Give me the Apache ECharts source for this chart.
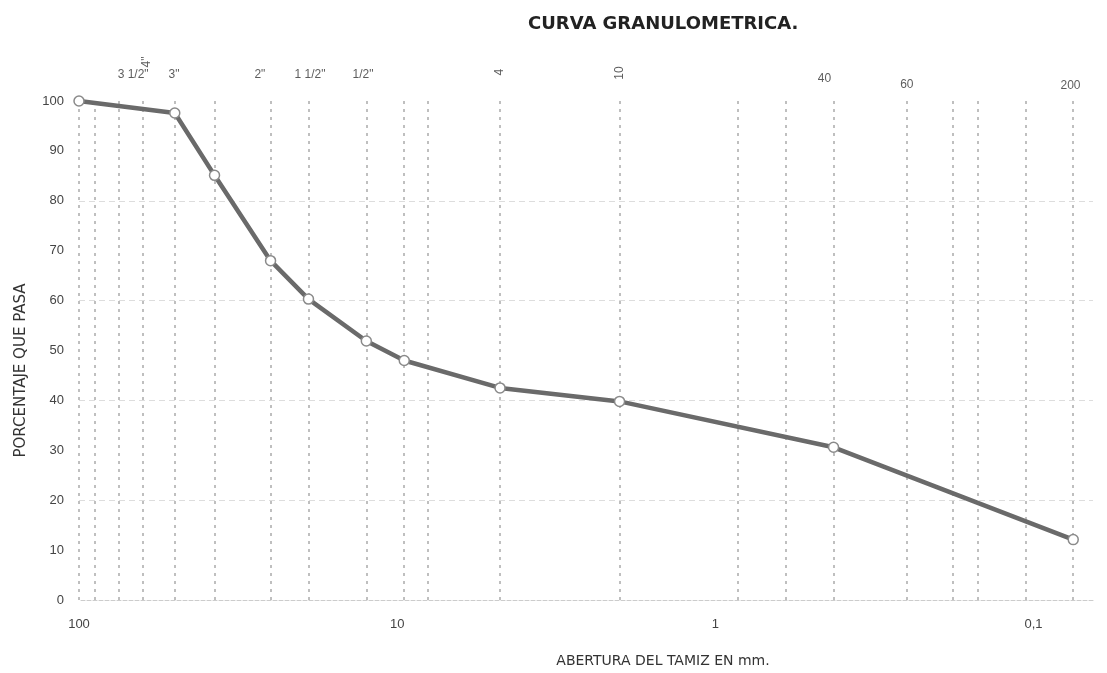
<!DOCTYPE html>
<html>
<head>
<meta charset="utf-8">
<title>Curva granulometrica</title>
<script src="https://cdn.jsdelivr.net/npm/echarts@6/dist/echarts.min.js"></script>
<style>
  html, body { margin: 0; padding: 0; background: #fff; }
  #chart { width: 1107px; height: 673px; }
</style>
</head>
<body>
<div id="chart"></div>
<script>
// abertura (mm) y porcentaje que pasa
const aberturas = [100, 50, 37.5, 25, 19, 12.5, 9.5, 4.75, 2.0, 0.425, 0.075]
const porcentajes = [100, 97.6, 85.1, 68, 60.3, 51.9, 48, 42.5, 39.8, 30.6, 12.1]

// lineas verticales de los tamices (mm)
const tamices = [100, 89, 75, 63, 50, 37.5, 25, 19, 12.5, 9.5, 8, 4.75, 2.0, 0.85, 0.6, 0.425, 0.25, 0.18, 0.15, 0.106, 0.075]

// etiquetas superiores de los tamices
const etiquetas = ['3 1/2"', '3"', '4"', '2"', '1 1/2"', '1/2"', '4', '10', '40', '60', '200']
const etiquetaX = [67.6, 50.3, 61.2, 27, 18.8, 12.8, 4.75, 2.0, 0.454, 0.25, 0.0765]
const etiquetaY = [105.2, 105.2, 107.8, 105.2, 105.2, 105.2, 105.8, 105.6, 104.4, 103.2, 103.0]
const etiquetaRot = [0, 0, 90, 0, 0, 0, 90, 90, 0, 0, 0]

// lineas horizontales tenues
const horizontales = [20, 40, 60, 80]

const yTicks = { min: 0, max: 100, interval: 10 }

let myChart = echarts.init(document.getElementById('chart'))

let option = {
  animation: false,
  textStyle: { fontFamily: 'Liberation Sans, Arial, sans-serif' },
  title: {
    text: 'CURVA GRANULOMETRICA.',
    left: 523,
    top: 10,
    textStyle: { fontSize: 18, fontWeight: 'bold', color: '#222', fontFamily: 'DejaVu Sans' }
  },
  grid: { left: 79, right: 14, top: 101, bottom: 69 },
  xAxis: {
    type: 'log',
    logBase: 10,
    inverse: true,
    min: 0.065,
    max: 100,
    name: 'ABERTURA DEL TAMIZ EN mm.',
    nameLocation: 'middle',
    nameGap: 54,
    nameTextStyle: { fontSize: 14, color: '#333', fontFamily: 'DejaVu Sans', padding: [0, 0, 0, 154] },
    axisLine: { lineStyle: { color: '#ccc', type: 'dashed' } },
    axisTick: { show: false },
    splitLine: { show: false },
    axisLabel: {
      color: '#444',
      fontSize: 13,
      margin: 18,
      formatter: function (v) {
        const e = Math.log10(v)
        if (Math.abs(e - Math.round(e)) > 0.001) return ''
        return String(Math.pow(10, Math.round(e))).replace('.', ',')
      }
    }
  },
  yAxis: {
    type: 'value',
    min: yTicks.min,
    max: yTicks.max,
    interval: yTicks.interval,
    name: 'PORCENTAJE QUE PASA',
    nameLocation: 'middle',
    nameGap: 50,
    nameTextStyle: { fontSize: 15, color: '#333', fontFamily: 'DejaVu Sans', padding: [0, 0, 0, -40] },
    axisLine: { show: false },
    axisTick: { show: false },
    splitLine: { show: false },
    axisLabel: { color: '#444', fontSize: 13, margin: 15 }
  },
  series: [
    {
      // etiquetas de tamices y rejilla
      type: 'scatter',
      clip: false,
      silent: true,
      symbolSize: 0,
      data: etiquetas.map((n, i) => ({
        name: n,
        value: [etiquetaX[i], etiquetaY[i]],
        label: { rotate: etiquetaRot[i] }
      })),
      label: {
        show: true,
        position: 'inside',
        formatter: '{b}',
        color: '#333',
        fontSize: 12
      },
      markLine: {
        silent: true,
        symbol: 'none',
        label: { show: false },
        lineStyle: { color: '#aaa', width: 1.5, type: [3, 5] },
        data: tamices.map(t => [{ coord: [t, 0] }, { coord: [t, 100] }])
          .concat(horizontales.map(h => [
            { coord: [100, h], lineStyle: { color: '#ddd', width: 1, type: [6, 4] } },
            { coord: [0.065, h] }
          ]))
      }
    },
    {
      type: 'line',
      data: aberturas.map((a, i) => [a, porcentajes[i]]),
      symbol: 'circle',
      symbolSize: 10,
      lineStyle: { color: '#6a6a6a', width: 4.5 },
      itemStyle: { color: '#fff', borderColor: '#8a8a8a', borderWidth: 1.5 },
      z: 5
    }
  ]
}
myChart.setOption(option)
</script>
</body>
</html>
